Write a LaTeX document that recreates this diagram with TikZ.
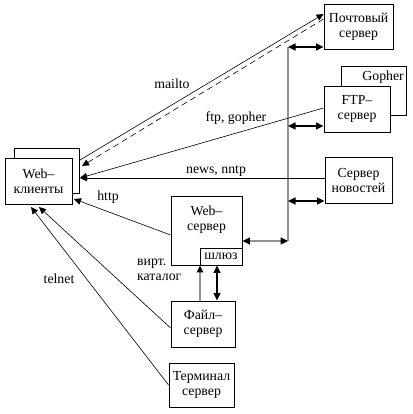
\documentclass[tikz,border=0pt]{standalone}
\usepackage{fontspec}
\setmainfont{Liberation Serif}
\usetikzlibrary{arrows.meta}
\begin{document}
\begin{tikzpicture}[x=1pt,y=-1pt,
  box/.style={draw,line width=0.9pt,fill=white,inner sep=0pt,align=center,
    font=\fontsize{13.8}{15}\selectfont},
  lbl/.style={inner sep=0pt,font=\fontsize{13.8}{15}\selectfont},
  tip/.style={-{Triangle[length=7pt,width=6.5pt,color=black]}},
  dtip/.style={{Triangle[length=7.5pt,width=7pt,color=black]}-{Triangle[length=7.5pt,width=7pt,color=black]}},
  thin line/.style={line width=0.6pt},
  busline/.style={draw=gray!85,line width=1.4pt},
  busarrow/.style={dtip,line width=1.2pt}]
\useasboundingbox (0,0) rectangle (412,414);
% boxes
\node[box,minimum width=65pt,minimum height=45pt] (wcback) at (46.5,170.5) {};
\node[box,minimum width=67pt,minimum height=46pt] (wc) at (38.5,181) {Web–\\клиенты};
\node[box,minimum width=69pt,minimum height=45pt] (mail) at (358.5,26.5) {Почтовый\\сервер};
\node[box,minimum width=65pt,minimum height=49pt] (gopher) at (373.5,90.5) {};
\node[lbl,anchor=base east] (gophert) at (404,81) {Gopher};
\node[box,minimum width=66pt,minimum height=46pt] (ftp) at (357,109) {FTP–\\сервер};
\node[box,minimum width=67pt,minimum height=46pt] (news) at (358.5,180) {Сервер\\новостей};
\node[box,minimum width=71pt,minimum height=69pt] (websrv) at (206.5,230.5) {};
\node[lbl,align=center] (websrvt) at (206.5,219.5) {Web–\\сервер};
\node[box,minimum width=42pt,minimum height=17pt] (gate) at (221,256.5) {шлюз};
\node[box,minimum width=64pt,minimum height=46pt] (file) at (203,324) {Файл–\\сервер};
\node[box,minimum width=65pt,minimum height=44pt] (term) at (201.5,385) {Терминал\\сервер};
% bus
\coordinate (bustop) at (288,47);
\coordinate (busbot) at (288,241);
\draw[busline] (bustop) -- (busbot);
\draw[busarrow,black] (bustop) -- (bustop -| mail.west);
\draw[busarrow,black] (288,126) coordinate (busftp) -- (busftp -| ftp.west);
\draw[busarrow,black] (288,201) coordinate (busnews) -- (busnews -| news.west);
\draw[busarrow,draw=gray!85] (busbot -| websrv.east) -- (busbot);
% client connections
\coordinate (wcmail) at (80,160);
\coordinate (wcmailback) at (82,166);
\coordinate (wcftp) at (80,178);
\coordinate (wchttp) at (74,199);
\coordinate (wcfile) at (39,207);
\coordinate (wcterm) at (31,207);
\draw[thin line,tip] (wcmail) -- (mail.west |- 0,14);
\draw[thin line,tip,dash pattern=on 6pt off 4pt] (mail.west |- 0,19) -- (wcmailback);
\draw[thin line,tip] (ftp.west |- 0,108) -- (wcftp);
\draw[thin line,tip] (news.west |- 0,178) -- (wcftp);
\draw[thin line,tip] (websrv.west |- 0,235) -- (wchttp);
\draw[thin line,tip] (file.west |- 0,328) -- (wcfile);
\draw[thin line,tip] (term.west |- 0,385) -- (wcterm);
% file server to web server
\draw[line width=1.2pt,draw=gray!85,tip] (file.north -| 200,0) -- (gate.south -| 200,0);
\draw[line width=1.1pt,dtip] (gate.south -| 217,0) -- (file.north -| 217,0);
% labels
\node[lbl] (lmailto) at (172,84) {mailto};
\node[lbl] (lftp) at (236,118) {ftp, gopher};
\node[lbl] (lnews) at (216,171) {news, nntp};
\node[lbl] (lhttp) at (108,197) {http};
\node[lbl,align=left,anchor=west] (lvirt) at (137,270) {вирт.\\каталог};
\node[lbl] (ltelnet) at (59,279) {telnet};
\end{tikzpicture}
\end{document}
